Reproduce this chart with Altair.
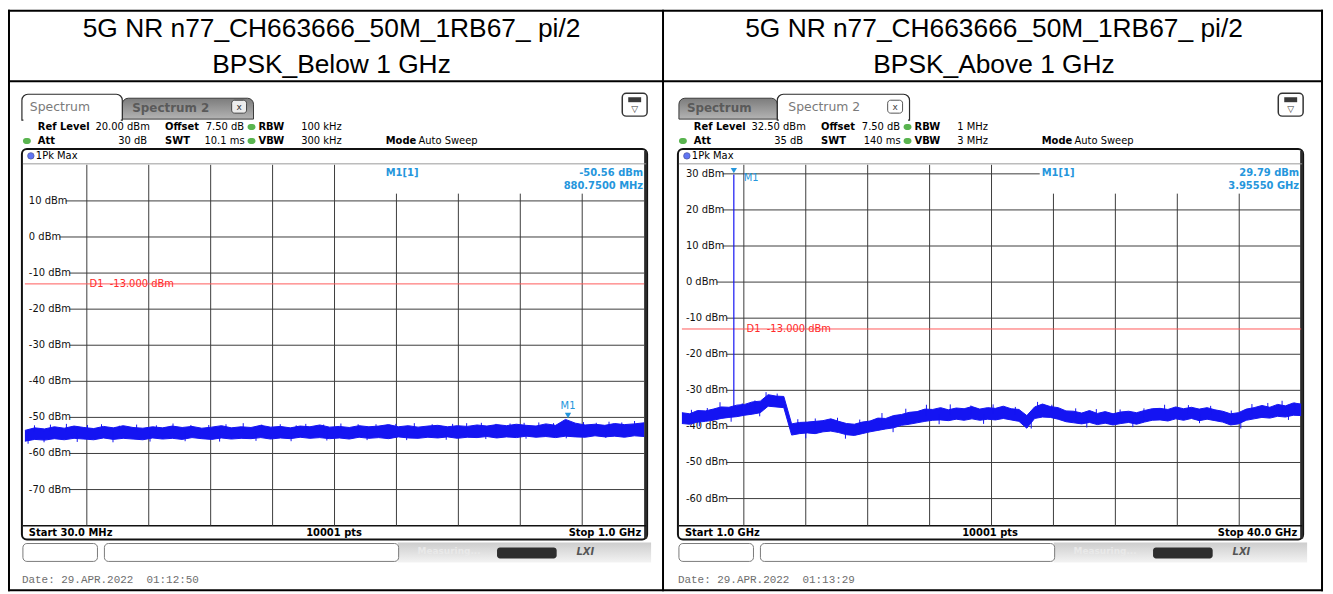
import altair as alt
import numpy as np
import pandas as pd

# ------------------------------------------------------------------ data
TITLE_LINE1 = ["5G NR n77_CH663666_50M_1RB67_ pi/2", "5G NR n77_CH663666_50M_1RB67_ pi/2"]
TITLE_LINE2 = ["BPSK_Below 1 GHz", "BPSK_Above 1 GHz"]

# left sweep: 30 MHz .. 1 GHz, level axis 20 .. -80 dBm
L_START, L_STOP = 30.0, 1000.0
L_TOP, L_BOTTOM = 20.0, -80.0
L_HI = [-53.6, -52.9, -53.2, -52.6, -53.0, -52.4, -52.8, -53.1,
        -52.5, -52.9, -52.3, -52.8, -53.0, -52.6, -52.9, -52.4,
        -52.8, -52.5, -53.0, -52.7, -52.3, -52.9, -52.6, -52.8,
        -52.2, -52.7, -52.5, -52.9, -52.4, -52.6, -52.1, -52.7,
        -52.5, -52.8, -52.3, -52.6, -52.4, -52.0, -52.6, -52.3,
        -52.7, -52.4, -52.2, -52.6, -52.3, -52.5, -52.1, -52.4,
        -52.0, -52.3, -51.9, -52.2, -52.4, -51.8, -52.2, -50.56,
        -51.6, -52.1, -51.9, -52.2, -51.7, -52.0, -51.8, -51.5]
L_LO = [-56.6, -56.1, -56.3, -55.9, -56.2, -55.8, -56.0, -56.2,
        -55.7, -56.1, -55.8, -56.0, -56.2, -55.7, -56.0, -55.8,
        -56.1, -55.6, -55.9, -56.1, -55.7, -56.0, -55.8, -55.9,
        -55.6, -56.0, -55.7, -55.9, -55.5, -55.8, -55.6, -55.9,
        -55.7, -56.0, -55.5, -55.8, -55.6, -55.9, -55.4, -55.7,
        -55.8, -55.5, -55.7, -55.4, -55.8, -55.5, -55.6, -55.3,
        -55.7, -55.4, -55.6, -55.2, -55.5, -55.3, -55.6, -55.2,
        -55.4, -55.5, -55.1, -55.4, -55.2, -55.5, -55.1, -55.3]
# single-sample peaks sticking out of the noise band
L_SPK_F = [45, 70, 95, 128, 150, 178, 205, 236, 262, 290, 318, 345, 372, 401, 430, 455, 470, 498, 525,
           552, 580, 611, 640, 668, 700, 722, 745, 768, 790, 812, 835, 858, 905, 925, 945, 965, 985,
           35, 60, 112, 168, 226, 281, 335, 392, 447, 503, 566, 628, 690, 752, 815, 878, 940]
L_SPK_V = [-52.2, -52.0, -51.8, -52.1, -51.9, -52.3, -52.0, -52.2, -51.7, -52.1, -52.1, -51.9, -51.6,
           -52.0, -51.9, -52.2, -51.8, -52.0, -51.7, -51.9, -51.9, -51.8, -51.6, -51.9, -51.8, -51.6,
           -51.5, -51.8, -51.7, -51.5, -51.4, -51.6, -51.3, -51.5, -51.2, -51.4, -51.0,
           -57.3, -56.9, -56.8, -56.9, -56.7, -56.6, -56.7, -56.5, -56.6, -56.4, -56.3, -56.3, -56.2,
           -56.0, -55.9, -55.8, -55.7]
L_SPK_BASE = -54.0
L_GRID_F = [127.0, 224.0, 321.0, 418.0, 515.0, 612.0, 709.0, 806.0, 903.0]
L_LEVELS = [10, 0, -10, -20, -30, -40, -50, -60, -70]
L_LABELS = ["10 dBm", "0 dBm", "-10 dBm", "-20 dBm", "-30 dBm", "-40 dBm", "-50 dBm", "-60 dBm", "-70 dBm"]
L_MARK_F, L_MARK_V = 880.75, -50.56

# right sweep: 1 GHz .. 40 GHz, level axis 32.5 .. -67.5 dBm
R_START, R_STOP = 1.0, 40.0
R_TOP, R_BOTTOM = 32.5, -67.5
R_HI = [-36.2, -36.5, -35.6, -35.7, -35.2, -34.6, -34.7, -34.1, -33.9, -33.2,
        -33.0, -31.2, -31.6, -31.7, -39.3, -38.9, -38.8, -38.6, -38.4, -37.9,
        -38.6, -39.2, -39.4, -38.8, -38.5, -37.7, -37.8, -37.0, -36.7, -36.1,
        -35.9, -35.2, -35.3, -34.8, -35.4, -34.9, -35.1, -34.5, -35.2, -34.8,
        -35.0, -34.4, -35.1, -35.3, -37.0, -34.6, -33.8, -34.5, -34.8, -35.7,
        -35.8, -36.3, -35.6, -36.4, -35.9, -36.5, -36.0, -35.8, -36.2, -35.6,
        -35.1, -35.0, -35.3, -34.6, -35.1, -34.7, -35.2, -34.8, -35.4, -35.8,
        -36.5, -36.2, -35.2, -34.8, -34.2, -34.7, -33.9, -34.3, -33.5, -33.8]
R_LO = [-39.2, -39.4, -38.8, -38.6, -38.3, -37.8, -37.5, -37.3, -36.9, -36.6,
        -36.2, -34.4, -34.6, -34.8, -42.4, -42.0, -41.8, -42.0, -41.5, -41.3,
        -41.7, -42.3, -42.5, -42.0, -41.5, -41.1, -40.7, -40.4, -39.7, -39.4,
        -39.0, -38.6, -38.3, -38.2, -38.4, -38.0, -38.3, -37.9, -38.3, -38.0,
        -38.2, -37.8, -38.2, -38.6, -40.5, -37.8, -37.4, -37.5, -38.0, -38.7,
        -39.0, -39.3, -38.9, -39.5, -39.1, -39.6, -39.2, -38.9, -39.4, -38.8,
        -38.3, -38.2, -38.5, -37.9, -38.3, -37.8, -38.4, -38.0, -38.4, -38.8,
        -39.6, -39.3, -38.3, -37.9, -37.5, -37.7, -37.2, -37.4, -36.9, -37.0]
R_SPK_F = [1.6, 2.6, 3.4, 4.8, 5.6, 6.3, 7.0, 8.3, 9.4, 10.8, 12.2, 13.6, 15.1, 16.4, 17.9, 19.2,
           20.6, 22.0, 23.4, 24.3, 25.8, 27.1, 28.6, 30.1, 31.4, 32.9, 34.3, 35.6, 36.9, 37.9, 38.8, 39.6,
           2.1, 4.1, 5.9, 8.8, 11.3, 14.3, 17.2, 20.0, 23.0, 26.5, 29.4, 33.6, 36.2, 39.2]
R_SPK_V = [-35.4, -34.9, -33.3, -33.6, -32.8, -30.5, -30.9, -38.0, -37.8, -37.6, -38.1, -36.3, -35.1,
           -34.0, -33.9, -34.2, -33.9, -34.6, -33.2, -34.0, -35.0, -35.2, -35.3, -35.0, -34.0, -34.1,
           -34.3, -35.6, -33.8, -33.5, -32.9, -33.4,
           -40.0, -38.7, -37.2, -43.3, -43.4, -41.6, -39.4, -39.3, -40.6, -40.3, -40.2, -39.1, -40.6, -38.2]
R_SPK_BASE = [-37.6, -37.0, -36.3, -35.5, -34.9, -33.0, -33.0, -40.7, -40.5, -40.0, -40.8, -39.5, -38.0,
              -37.0, -36.8, -36.6, -36.5, -36.8, -36.0, -36.0, -37.5, -37.8, -37.8, -37.5, -36.7, -36.5,
              -36.7, -37.5, -36.5, -36.1, -35.8, -35.5,
              -37.3, -36.0, -34.7, -40.5, -40.7, -38.8, -36.7, -36.6, -37.5, -37.6, -37.6, -36.5, -37.8, -35.6]
R_GRID_F = [4.9, 8.8, 12.7, 16.6, 20.5, 24.4, 28.3, 32.2, 36.1]
R_LEVELS = [30, 20, 10, 0, -10, -20, -30, -40, -50, -60]
R_LABELS = ["30 dBm", "20 dBm", "10 dBm", "0 dBm", "-10 dBm", "-20 dBm", "-30 dBm", "-40 dBm", "-50 dBm", "-60 dBm"]
R_MARK_F, R_MARK_V = 4.27, 29.79
R_SPIKE_BASE = -34.8

LIMIT = -13.0
LIMIT_TEXT = "D1\u00a0\u00a0-13.000 dBm"

INFO = [
    dict(ref="20.00 dBm", att="30 dB", swt="10.1 ms", rbw="100 kHz", vbw="300 kHz",
         m_val="-50.56 dBm", m_freq="880.7500 MHz", start="Start 30.0 MHz", stop="Stop 1.0 GHz",
         date="Date: 29.APR.2022\u00a0\u00a001:12:50"),
    dict(ref="32.50 dBm", att="35 dB", swt="140 ms", rbw="1 MHz", vbw="3 MHz",
         m_val="29.79 dBm", m_freq="3.95550 GHz", start="Start 1.0 GHz", stop="Stop 40.0 GHz",
         date="Date: 29.APR.2022\u00a0\u00a001:13:29"),
]

# ------------------------------------------------------------------ styling
W, H = 623, 363
OY = 164
FONT = "DejaVu Sans"
TRACE = "#1414f2"
MARK = "#2596dc"
GRID = "#3c3c3c"
dummy = pd.DataFrame({"d": [0]})


def build(side):
    ox = 25 if side == 0 else 686
    dx = 0 if side == 0 else 660
    layers = []

    def rect(x1, y1, x2, y2, fill="white", stroke=None, sw=1.0, shift=True, **kw):
        s = dx if shift else 0
        mk = dict(fill=fill, **kw)
        if stroke:
            mk.update(stroke=stroke, strokeWidth=sw)
        else:
            mk.update(strokeWidth=0)
        layers.append(alt.Chart(dummy).mark_rect(**mk).encode(
            x=alt.value(x1 + s - ox), x2=alt.value(x2 + s - ox),
            y=alt.value(y1 - OY), y2=alt.value(y2 - OY)))

    def text(x, y, s, size=10, bold=False, color="#000", align="left", font=FONT, shift=True, **kw):
        sh = dx if shift else 0
        layers.append(alt.Chart(dummy).mark_text(
            text=s, fontSize=size, fontWeight="bold" if bold else "normal", color=color,
            align=align, baseline="middle", font=font, **kw).encode(
            x=alt.value(x + sh - ox), y=alt.value(y - OY)))

    def hline(x1, x2, y, color, w=1.0):
        layers.append(alt.Chart(dummy).mark_rule(color=color, strokeWidth=w).encode(
            x=alt.value(x1 + dx - ox), x2=alt.value(x2 + dx - ox), y=alt.value(y - OY)))

    info = INFO[side]

    # ---------------- table (drawn once, in the left panel)
    if side == 0:
        rect(8, 8, 1333, 594, fill="white", shift=False)
        rect(8, 8, 1331, 10, fill="black", shift=False)
        rect(8, 8, 10, 593, fill="black", shift=False)
        rect(1329, 8, 1331, 593, fill="black", shift=False)
        rect(8, 591, 1331, 593, fill="black", shift=False)
        rect(8, 79, 1331, 81, fill="black", shift=False)
        rect(666, 8, 668, 593, fill="black", shift=False)
        for i, cx in enumerate([333.5, 1000.0]):
            text(cx, 27, TITLE_LINE1[i], size=26.5, font="Liberation Sans", align="center", shift=False)
            text(cx, 64, TITLE_LINE2[i], size=26.5, font="Liberation Sans", align="center", shift=False)

    # ---------------- tabs
    tab_grad = alt.Gradient(gradient="linear", x1=0, x2=0, y1=0, y2=1,
                            stops=[alt.GradientStop(color="#7c7c7c", offset=0),
                                   alt.GradientStop(color="#b4b4b4", offset=1)])
    if side == 0:
        rect(123, 97, 255, 118, fill=tab_grad, stroke="#3a3a3a", sw=1,
             cornerRadiusTopLeft=6, cornerRadiusTopRight=6)
        text(133, 107, "Spectrum 2", size=12, bold=True, color="#5a5a5a")
        rect(233, 99, 248, 112, fill="#ececec", stroke="#444", sw=1, cornerRadius=3)
        text(240.5, 105.5, "x", size=9, color="#333", align="center")
        rect(22, 93, 123, 119, fill="white", stroke="#2a2a2a", sw=1.2,
             cornerRadiusTopLeft=6, cornerRadiusTopRight=6)
        rect(23.5, 116, 121.5, 121, fill="white")
        text(30, 106, "Spectrum", size=12.5, color="#7a7a7a")
    else:
        rect(23, 97, 122, 118, fill=tab_grad, stroke="#3a3a3a", sw=1,
             cornerRadiusTopLeft=6, cornerRadiusTopRight=6)
        text(31, 107, "Spectrum", size=12, bold=True, color="#5a5a5a")
        rect(122, 93, 255, 119, fill="white", stroke="#2a2a2a", sw=1.2,
             cornerRadiusTopLeft=6, cornerRadiusTopRight=6)
        rect(123.5, 116, 253.5, 121, fill="white")
        text(133, 106, "Spectrum 2", size=12.5, color="#7a7a7a")
        rect(233, 99, 248, 112, fill="white", stroke="#555", sw=1, cornerRadius=3)
        text(240.5, 105.5, "x", size=9, color="#444", align="center")

    # menu button
    rect(626, 92, 651, 115, fill="white", stroke="#333", sw=1.5, cornerRadius=4)
    rect(632, 96, 645, 101, fill="#3a3a3a")
    text(638.5, 108, "\u25BD", size=9, color="#333", align="center")

    # ---------------- settings text
    green = "#59b44f"
    text(38, 126, "Ref Level", bold=True)
    text(96, 126, info["ref"])
    text(166, 126, "Offset", bold=True)
    text(207, 126, "7.50 dB")
    rect(249, 123, 257, 129, fill=green, cornerRadius=3)
    text(260, 126, "RBW", bold=True)
    text(303, 126, info["rbw"])
    rect(23, 137, 31, 143, fill=green, cornerRadius=3)
    text(38, 140, "Att", bold=True)
    text(148, 140, info["att"], align="right")
    text(166, 140, "SWT", bold=True)
    text(246, 140, info["swt"], align="right")
    rect(249, 137, 257, 143, fill=green, cornerRadius=3)
    text(260, 140, "VBW", bold=True)
    text(303, 140, info["vbw"])
    text(388, 140, "Mode", bold=True)
    text(421, 140, "Auto Sweep")

    # ---------------- measurement frame
    rect(22, 148, 651, 541, fill="white", stroke="#111", sw=2, cornerRadius=5)
    rect(648, 150, 651, 540, fill="#2a2a2a")
    hline(23, 650, 163, "#9a9a9a", 1)
    hline(23, 650, 527, "#111", 1.5)
    layers.append(alt.Chart(dummy).mark_point(shape="circle", filled=True, size=42,
                                               color="#1d3cf0", stroke="#0c1a80", strokeWidth=0.8)
                  .encode(x=alt.value(31 + dx - ox), y=alt.value(155 - OY)))
    text(36, 155, "1Pk Max")
    text(29, 534, info["start"], bold=True)
    text(336, 534, "10001 pts", bold=True, align="center")
    text(645, 534, info["stop"], bold=True, align="right")

    # ---------------- status bar
    stat_grad = alt.Gradient(gradient="linear", x1=0, x2=0, y1=0, y2=1,
                             stops=[alt.GradientStop(color="#cdcdcd", offset=0),
                                    alt.GradientStop(color="#f3f3f3", offset=1)])
    rect(400, 544, 655, 564, fill=stat_grad)
    rect(23, 545, 98, 563, fill="white", stroke="#7a7a7a", sw=1, cornerRadius=4)
    rect(105, 545, 401, 563, fill="white", stroke="#7a7a7a", sw=1, cornerRadius=4)
    text(420, 553, "Measuring...", size=9, bold=True, color="#e9e9e9")
    rect(500, 549, 560, 560, fill="#2e2e2e", cornerRadius=3)
    text(580, 554, "LXI", size=10, bold=True, color="#555", fontStyle="italic")
    text(22, 582, info["date"], size=11, color="#6e6e6e", font="Liberation Mono")

    # ---------------- plot content (through scales)
    if side == 0:
        xs = alt.Scale(domain=[L_START, L_STOP], nice=False, zero=False)
        ys = alt.Scale(domain=[L_BOTTOM, L_TOP], nice=False, zero=False)
        grid_f, levels, labels = L_GRID_F, L_LEVELS, L_LABELS
        freq = np.linspace(L_START, L_STOP, len(L_HI))
        trace = pd.DataFrame({"f": freq, "hi": L_HI, "lo": L_LO})
        spikes = pd.DataFrame({"f": L_SPK_F, "v": L_SPK_V, "b": [L_SPK_BASE] * len(L_SPK_F)})
        mark = pd.DataFrame({"f": [L_MARK_F], "v": [L_MARK_V]})
    else:
        xs = alt.Scale(domain=[R_START, R_STOP], nice=False, zero=False)
        ys = alt.Scale(domain=[R_BOTTOM, R_TOP], nice=False, zero=False)
        grid_f, levels, labels = R_GRID_F, R_LEVELS, R_LABELS
        freq = np.linspace(R_START, R_STOP, len(R_HI))
        trace = pd.DataFrame({"f": freq, "hi": R_HI, "lo": R_LO})
        spikes = pd.DataFrame({"f": R_SPK_F, "v": R_SPK_V, "b": R_SPK_BASE})
        mark = pd.DataFrame({"f": [R_MARK_F], "v": [R_MARK_V], "b": [R_SPIKE_BASE]})

    X = lambda: alt.X("f:Q", scale=xs, axis=None)
    Y = lambda fld: alt.Y(fld, scale=ys, axis=None)

    gdf = pd.DataFrame({"f": grid_f})
    layers.append(alt.Chart(gdf.iloc[:5]).mark_rule(color=GRID, strokeWidth=1).encode(
        x=X(), y=alt.value(0), y2=alt.value(H)))
    layers.append(alt.Chart(gdf.iloc[5:]).mark_rule(color=GRID, strokeWidth=1).encode(
        x=X(), y=alt.value(193 - OY), y2=alt.value(H)))

    ldf = pd.DataFrame({"v": levels, "t": labels})
    pos2 = ldf[(ldf.v > 0)]
    zero = ldf[(ldf.v == 0)]
    neg = ldf[(ldf.v < 0)]
    layers.append(alt.Chart(pos2[pos2.v < 25]).mark_rule(color=GRID, strokeWidth=1).encode(
        y=Y("v:Q"), x=alt.value(41), x2=alt.value(W)))
    if side == 1:
        layers.append(alt.Chart(pos2[pos2.v > 25]).mark_rule(color=GRID, strokeWidth=1).encode(
            y=Y("v:Q"), x=alt.value(41), x2=alt.value(1046 - ox)))
    layers.append(alt.Chart(zero).mark_rule(color=GRID, strokeWidth=1).encode(
        y=Y("v:Q"), x=alt.value(35), x2=alt.value(W)))
    layers.append(alt.Chart(neg).mark_rule(color=GRID, strokeWidth=1).encode(
        y=Y("v:Q"), x=alt.value(45), x2=alt.value(W)))
    layers.append(alt.Chart(ldf).mark_text(align="left", baseline="middle", font=FONT,
                                           fontSize=10, color="#111").encode(
        y=Y("v:Q"), x=alt.value(4), text="t:N"))

    # limit line D1
    lim = pd.DataFrame({"v": [LIMIT]})
    layers.append(alt.Chart(lim).mark_rule(color="#ff5a5a", strokeWidth=1).encode(
        y=Y("v:Q"), x=alt.value(0), x2=alt.value(W)))
    layers.append(alt.Chart(lim).mark_text(text=LIMIT_TEXT, align="left", baseline="middle",
                                           font=FONT, fontSize=10, color="#ff2a2a", dx=65).encode(
        y=Y("v:Q"), x=alt.value(0)))

    # trace
    layers.append(alt.Chart(trace).mark_area(color=TRACE, opacity=1).encode(
        x=X(), y=Y("hi:Q"), y2="lo:Q"))
    layers.append(alt.Chart(trace).mark_line(color=TRACE, strokeWidth=1).encode(
        x=X(), y=Y("hi:Q")))
    layers.append(alt.Chart(trace).mark_line(color=TRACE, strokeWidth=1).encode(
        x=X(), y=Y("lo:Q")))
    layers.append(alt.Chart(spikes).mark_rule(color=TRACE, strokeWidth=1).encode(
        x=X(), y=Y("v:Q"), y2="b:Q"))
    if side == 1:
        layers.append(alt.Chart(mark).mark_rule(color=TRACE, strokeWidth=1.2).encode(
            x=X(), y=Y("b:Q"), y2="v:Q"))

    # marker
    layers.append(alt.Chart(mark).mark_point(shape="triangle-down", filled=True, size=40,
                                             color=MARK, opacity=1, yOffset=-4).encode(x=X(), y=Y("v:Q")))
    if side == 0:
        layers.append(alt.Chart(mark).mark_text(text="M1", font=FONT, fontSize=10, color=MARK,
                                                align="center", baseline="middle", dy=-13).encode(
            x=X(), y=Y("v:Q")))
    else:
        layers.append(alt.Chart(mark).mark_text(text="M1", font=FONT, fontSize=10, color=MARK,
                                                align="left", baseline="middle", dx=10, dy=3).encode(
            x=X(), y=Y("v:Q")))

    # marker readout
    text(388, 172, "M1[1]", bold=True, color=MARK)
    text(647, 172, info["m_val"], bold=True, color=MARK, align="right")
    text(647, 185, info["m_freq"], bold=True, color=MARK, align="right")

    return alt.layer(*layers).properties(width=W, height=H)


left = build(0)
right = build(1)

chart = alt.hconcat(left, right, spacing=38, bounds="flush").properties(
    padding=0
).configure_view(stroke=None)

chart.save("out.html", embed_options={"renderer": "svg", "actions": False})
